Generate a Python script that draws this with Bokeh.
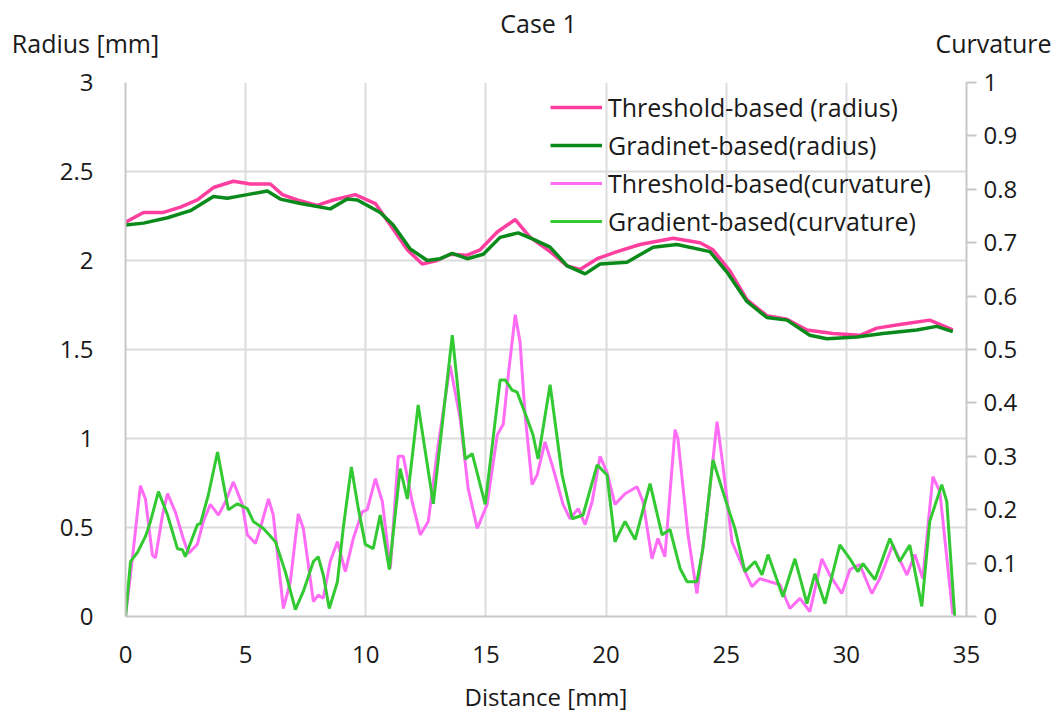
from bokeh.plotting import figure
from bokeh.models import Range1d, LinearAxis, FixedTicker, CustomJSTickFormatter
from bokeh.layouts import column
from bokeh.core.properties import value
from bokeh.embed import file_html
from bokeh.resources import INLINE

# ---------------- data ----------------
tr_x = [0, 0.75, 1.58, 2.29, 2.99, 3.66, 4.49, 5.20, 6.03, 6.53, 7.15, 7.98, 8.65, 9.56, 10.40,
        11.02, 11.73, 12.35, 12.97, 13.51, 14.22, 14.76, 15.47, 16.22, 16.84, 17.67, 18.38,
        18.92, 19.63, 20.46, 21.41, 22.79, 23.91, 24.45, 25.16, 25.86, 26.69, 27.53, 28.36,
        29.44, 30.56, 31.27, 32.22, 33.47, 34.43]
tr_r = [2.215, 2.27, 2.27, 2.30, 2.34, 2.41, 2.445, 2.43, 2.43, 2.37, 2.34, 2.31, 2.34, 2.37,
        2.32, 2.20, 2.06, 1.98, 2.00, 2.035, 2.03, 2.06, 2.16, 2.23, 2.13, 2.05, 1.97, 1.95,
        2.01, 2.05, 2.09, 2.125, 2.10, 2.06, 1.94, 1.78, 1.69, 1.67, 1.61, 1.59, 1.58, 1.62,
        1.64, 1.665, 1.61]

gr_x = [0, 0.75, 1.75, 2.70, 3.66, 4.24, 5.07, 5.90, 6.44, 7.28, 8.52, 9.23, 9.65, 10.60,
        11.14, 11.85, 12.56, 13.10, 13.60, 14.22, 14.89, 15.59, 16.34, 16.96, 17.67, 18.38,
        19.13, 19.75, 20.87, 21.96, 22.95, 24.32, 25.03, 25.86, 26.69, 27.53, 28.48, 29.19,
        30.44, 31.52, 32.93, 33.76, 34.43]
gr_r = [2.20, 2.21, 2.24, 2.28, 2.36, 2.35, 2.37, 2.39, 2.345, 2.32, 2.29, 2.345, 2.34, 2.27,
        2.20, 2.065, 2.00, 2.01, 2.04, 2.01, 2.035, 2.13, 2.155, 2.12, 2.075, 1.97, 1.925,
        1.98, 1.99, 2.075, 2.09, 2.05, 1.935, 1.77, 1.68, 1.665, 1.58, 1.56, 1.57, 1.59,
        1.61, 1.63, 1.60]

tc_x = [0, 0.29, 0.62, 0.83, 1.12, 1.25, 1.54, 1.75, 2.08, 2.41, 2.62, 2.99, 3.24, 3.53, 3.87,
        4.16, 4.49, 4.86, 5.07, 5.41, 5.61, 5.95, 6.15, 6.57, 6.86, 7.19, 7.40, 7.82, 8.02,
        8.23, 8.52, 8.82, 9.15, 9.48, 9.85, 10.06, 10.40, 10.69, 11.02, 11.35, 11.56, 11.93,
        12.27, 12.60, 13.01, 13.51, 13.93, 14.26, 14.64, 15.05, 15.47, 15.72, 15.93, 16.22,
        16.42, 16.63, 16.92, 17.13, 17.46, 17.80, 18.21, 18.50, 18.84, 19.13, 19.42, 19.75,
        20.04, 20.37, 20.79, 21.29, 21.54, 21.91, 22.16, 22.45, 22.87, 22.99, 23.41, 23.78,
        24.20, 24.62, 24.86, 25.24, 25.65, 26.07, 26.40, 26.82, 27.23, 27.65, 28.07, 28.48,
        28.98, 29.31, 29.81, 30.15, 30.56, 31.06, 31.39, 31.93, 32.52, 32.85, 33.18, 33.60,
        33.89, 34.43]
tc_c = [0, 0.11, 0.245, 0.22, 0.115, 0.11, 0.19, 0.23, 0.195, 0.145, 0.118, 0.135, 0.178, 0.21,
        0.19, 0.215, 0.252, 0.21, 0.153, 0.137, 0.165, 0.22, 0.19, 0.015, 0.065, 0.192, 0.165,
        0.028, 0.04, 0.034, 0.103, 0.14, 0.084, 0.146, 0.196, 0.2, 0.258, 0.215, 0.09, 0.30,
        0.30, 0.215, 0.153, 0.178, 0.32, 0.47, 0.37, 0.24, 0.165, 0.21, 0.34, 0.36, 0.452,
        0.565, 0.514, 0.378, 0.247, 0.265, 0.327, 0.277, 0.21, 0.183, 0.202, 0.172, 0.215,
        0.30, 0.27, 0.21, 0.23, 0.243, 0.215, 0.108, 0.146, 0.112, 0.35, 0.333, 0.153, 0.043,
        0.19, 0.365, 0.284, 0.14, 0.097, 0.056, 0.071, 0.065, 0.06, 0.015, 0.034, 0.009,
        0.108, 0.078, 0.043, 0.088, 0.097, 0.043, 0.071, 0.134, 0.078, 0.116, 0.071, 0.262,
        0.234, 0.004]

gc_x = [0, 0.21, 0.50, 0.83, 1.04, 1.37, 1.75, 2.16, 2.37, 2.49, 2.99, 3.12, 3.45, 3.83, 4.28,
        4.66, 5.07, 5.32, 5.74, 6.24, 6.65, 7.07, 7.40, 7.82, 8.02, 8.23, 8.48, 8.82, 9.06,
        9.40, 9.69, 9.98, 10.31, 10.60, 10.98, 11.43, 11.73, 12.18, 12.81, 13.60, 14.14, 14.43,
        14.97, 15.59, 15.80, 16.09, 16.30, 16.72, 16.96, 17.17, 17.67, 18.17, 18.59, 19.04,
        19.63, 20.04, 20.37, 20.79, 21.21, 21.83, 22.33, 22.66, 23.08, 23.37, 23.78, 24.03,
        24.45, 25.03, 25.36, 25.78, 26.20, 26.49, 26.74, 27.36, 27.86, 28.36, 28.69, 29.11,
        29.73, 30.15, 30.48, 30.69, 31.19, 31.81, 32.22, 32.64, 33.14, 33.47, 33.97, 34.18,
        34.51]
gc_c = [0, 0.103, 0.12, 0.15, 0.178, 0.234, 0.19, 0.127, 0.125, 0.112, 0.172, 0.174, 0.228,
        0.308, 0.2, 0.211, 0.202, 0.178, 0.165, 0.14, 0.084, 0.013, 0.047, 0.103, 0.112, 0.078,
        0.015, 0.065, 0.165, 0.28, 0.202, 0.135, 0.127, 0.19, 0.088, 0.277, 0.22, 0.396, 0.211,
        0.527, 0.295, 0.305, 0.21, 0.443, 0.443, 0.424, 0.42, 0.37, 0.34, 0.295, 0.434, 0.265,
        0.183, 0.19, 0.284, 0.265, 0.14, 0.178, 0.144, 0.249, 0.153, 0.163, 0.09, 0.065, 0.065,
        0.127, 0.293, 0.21, 0.165, 0.084, 0.103, 0.078, 0.116, 0.037, 0.108, 0.024, 0.08,
        0.024, 0.134, 0.108, 0.084, 0.099, 0.069, 0.146, 0.103, 0.134, 0.019, 0.178, 0.247,
        0.215, 0]

x_ticks = [0, 5, 10, 15, 20, 25, 30, 35]
radius_ticks = [0, 0.5, 1, 1.5, 2, 2.5, 3]
curv_ticks = [0, 0.1, 0.2, 0.3, 0.4, 0.5, 0.6, 0.7, 0.8, 0.9, 1]

series_names = ["Threshold-based (radius)", "Gradinet-based(radius)",
                "Threshold-based(curvature)", "Gradient-based(curvature)"]
header_texts = ["Case 1", "Radius [mm]", "Curvature"]

# ---------------- styling ----------------
FONT = "Open Sans"
TXT = "#1a1a1a"
AX = "#c8c8c8"
GRID = "#dcdcdc"
W = 1057
HEAD_H = 60

# header strip (title and axis names) -- a bare figure whose frame is the whole strip
head = figure(width=W, height=HEAD_H, x_range=Range1d(0, W), y_range=Range1d(HEAD_H, 0),
              output_backend="svg", toolbar_location=None, x_axis_type=None, y_axis_type=None,
              min_border=0, min_border_left=0, min_border_right=0, min_border_top=0,
              min_border_bottom=0)
head.outline_line_color = None
head.grid.visible = False
head.text(x=[538, 85, 993], y=[22, 42, 42], text=header_texts,
          text_align="center", text_baseline="middle",
          text_font=value(FONT), text_font_size="25px", text_color=TXT)

p = figure(width=W, height=722 - HEAD_H, x_range=Range1d(0, 35), y_range=Range1d(0, 3),
           output_backend="svg", toolbar_location=None,
           min_border_left=125, min_border_right=91, min_border_top=82 - HEAD_H,
           min_border_bottom=106)
p.outline_line_color = None
p.background_fill_color = "white"
p.extra_y_ranges = {"curv": Range1d(0, 1)}

for fig in (head, p):
    try:
        fig.frame_align = False
    except Exception:
        pass

fmt = CustomJSTickFormatter(code="return String(Math.round(tick*10)/10)")

# x axis
p.xaxis.ticker = FixedTicker(ticks=x_ticks)
p.xaxis.formatter = fmt
p.xaxis.major_tick_out = 0
p.xaxis.major_tick_in = 0
p.xaxis.minor_tick_out = 0
p.xaxis.minor_tick_in = 0
p.xaxis.axis_line_color = AX
p.xaxis.axis_line_width = 2
p.xaxis.major_label_standoff = 29
p.xaxis.major_label_text_font = FONT
p.xaxis.major_label_text_font_size = "24px"
p.xaxis.major_label_text_color = TXT
p.xaxis.axis_label = "Distance [mm]"
p.xaxis.axis_label_text_font = FONT
p.xaxis.axis_label_text_font_size = "24px"
p.xaxis.axis_label_text_font_style = "normal"
p.xaxis.axis_label_text_color = TXT
p.xaxis.axis_label_standoff = 14

# left axis
p.yaxis.ticker = FixedTicker(ticks=radius_ticks)
p.yaxis.formatter = fmt
p.yaxis.major_tick_out = 0
p.yaxis.major_tick_in = 0
p.yaxis.minor_tick_out = 0
p.yaxis.minor_tick_in = 0
p.yaxis.axis_line_color = AX
p.yaxis.axis_line_width = 2
p.yaxis.major_label_standoff = 32
p.yaxis.major_label_text_font = FONT
p.yaxis.major_label_text_font_size = "24px"
p.yaxis.major_label_text_color = TXT

# right axis
ra = LinearAxis(y_range_name="curv", ticker=FixedTicker(ticks=curv_ticks), formatter=fmt)
ra.major_tick_out = 10
ra.major_tick_in = 0
ra.minor_tick_out = 0
ra.minor_tick_in = 0
ra.major_tick_line_color = AX
ra.major_tick_line_width = 2
ra.axis_line_color = AX
ra.axis_line_width = 2
ra.major_label_standoff = 7
ra.major_label_text_font = FONT
ra.major_label_text_font_size = "24px"
ra.major_label_text_color = TXT
p.add_layout(ra, "right")

# grids
p.xgrid.ticker = FixedTicker(ticks=x_ticks)
p.ygrid.ticker = FixedTicker(ticks=radius_ticks)
p.xgrid.grid_line_color = GRID
p.ygrid.grid_line_color = GRID
p.xgrid.grid_line_width = 2
p.ygrid.grid_line_width = 2

# lines
p.line(tr_x, tr_r, line_color="#ff3f9f", line_width=3.5, legend_label=series_names[0])
p.line(gr_x, gr_r, line_color="#0a8a1a", line_width=3.5, legend_label=series_names[1])
p.line(tc_x, tc_c, line_color="#ff6cf5", line_width=3, y_range_name="curv",
       legend_label=series_names[2])
p.line(gc_x, gc_c, line_color="#33c933", line_width=3, y_range_name="curv",
       legend_label=series_names[3])

lg = p.legend[0]
lg.location = (425, 376)
lg.padding = 0
lg.spacing = 0
lg.margin = 0
lg.glyph_width = 52
lg.glyph_height = 38
lg.label_height = 38
lg.label_standoff = 6
lg.label_text_font = FONT
lg.label_text_font_size = "25px"
lg.label_text_color = TXT
lg.border_line_color = None
lg.background_fill_alpha = 0

layout = column(head, p, spacing=0)
open("out.html", "w").write(file_html(layout, INLINE))
